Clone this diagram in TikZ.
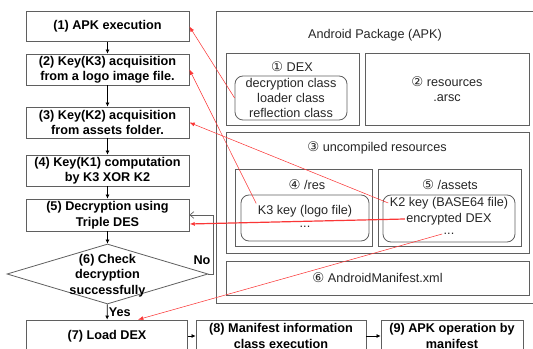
\documentclass[tikz,border=0pt]{standalone}
\usepackage{fontspec}
\setmainfont{Liberation Sans}
\newfontfamily\circfont{DejaVu Sans}
\usetikzlibrary{shapes.geometric, arrows.meta, calc}

\definecolor{boxgray}{RGB}{95,95,95}
\definecolor{keyred}{RGB}{250,55,55}
\newcommand{\cnum}[1]{{\circfont\fontsize{10}{10}\selectfont #1}}

\begin{document}
\begin{tikzpicture}[
    x=0.75pt, y=-0.75pt,
    font=\fontsize{9.5}{11.25}\selectfont,
    stepnode/.style={rectangle, draw=boxgray, line width=0.6pt, fill=white, align=center,
        inner sep=0pt, font=\fontsize{9.5}{11.6}\selectfont\bfseries},
    decision/.style={diamond, draw=boxgray, line width=0.6pt, inner sep=0pt,
        minimum width=150.75pt, minimum height=45pt},
    pkgbox/.style={rectangle, draw=boxgray, line width=0.6pt, align=center, text=black!85},
    filebox/.style={pkgbox, rounded corners=6pt},
    pkgtext/.style={inner sep=1pt, text=black!85},
    flow/.style={-{Latex[length=3pt, width=3pt]}, line width=0.5pt},
    noloop/.style={-{Straight Barb[length=3pt, width=5pt]}, boxgray, line width=0.5pt},
    keyarrow/.style={-{Latex[length=4pt, width=3pt]}, keyred, line width=0.4pt}
]
\useasboundingbox (0,0) rectangle (533,349);
\clip (0,0) rectangle (533,349);

% Decryption steps
\node[stepnode, minimum width=122.25pt, minimum height=22.5pt] (s1) at (107.5,26.5) {(1) APK execution};
\node[stepnode, minimum width=122.25pt, minimum height=23.25pt] (s2) at (107.5,69.5) {(2) Key(K3) acquisition\\from a logo image file.};
\node[stepnode, minimum width=122.25pt, minimum height=23.25pt] (s3) at (107.5,122.5) {(3) Key(K2) acquisition\\from assets folder.};
\node[stepnode, minimum width=122.25pt, minimum height=23.25pt] (s4) at (107.5,170.5) {(4) Key(K1) computation\\by K3 XOR K2};
\node[stepnode, minimum width=122.25pt, minimum height=24pt] (s5) at (107.5,215) {(5) Decryption using\\Triple DES};
\node[decision] (s6) at (107.5,274) {};
\node[stepnode, draw=none, fill=none] at ($(s6)+(0,1.5)$) {(6) Check\\decryption\\successfully};
\node[stepnode, minimum width=120.75pt, minimum height=24pt] (s7) at (107,336) {(7) Load DEX};
\node[stepnode, minimum width=127.5pt, minimum height=24pt] (s8) at (281,336) {(8) Manifest information\\class execution};
\node[stepnode, minimum width=106.5pt, minimum height=24pt] (s9) at (452,336) {(9) APK operation by\\manifest};

% Android package
\node[pkgbox, minimum width=249pt, minimum height=219pt] (apk) at (382,157) {};
\node[pkgtext] (apktitle) at (375,35) {Android Package (APK)};
\node[pkgbox, minimum width=99.75pt, minimum height=54pt] (dex) at (292.5,89) {};
\node[pkgtext] (dextitle) at (292,67) {\cnum{①} DEX};
\node[filebox, minimum width=84pt, minimum height=33pt, inner sep=0pt] (dexin) at (291,98) {decryption class\\loader class\\reflection class};
\node[pkgbox, minimum width=123pt, minimum height=54pt] (arsc) at (447,89) {\cnum{②} resources\\.arsc};
\node[pkgbox, minimum width=227.25pt, minimum height=90.75pt] (unc) at (377.5,192.5) {};
\node[pkgtext] (unctitle) at (377,148) {\cnum{③} uncompiled resources};
\node[pkgbox, minimum width=102.75pt, minimum height=57.75pt] (res) at (303.5,207.5) {};
\node[pkgtext] (restitle) at (307,185) {\cnum{④} /res};
\node[filebox, minimum width=96pt, minimum height=34.5pt] (resin) at (305,218) {};
\node[pkgtext] (k3) at (305,211) {K3 key (logo file)};
\node[pkgtext] (rdots) at (305,227) {...};
\node[pkgbox, minimum width=107.25pt, minimum height=57.75pt] (assets) at (449.5,207.5) {};
\node[pkgtext] (asstitle) at (450,185) {\cnum{⑤} /assets};
\node[filebox, minimum width=99pt, minimum height=35.25pt] (assetsin) at (449,218.5) {};
\node[pkgtext] (k2) at (449,203) {K2 key (BASE64 file)};
\node[pkgtext] (encdex) at (449,219) {encrypted DEX};
\node[pkgtext] (adots) at (449,234) {...};
\node[pkgbox, minimum width=227.25pt, minimum height=25.5pt] (mani) at (377.5,278) {\cnum{⑥} AndroidManifest.xml};

% Flow
\draw[flow] (s1) -- (s2);
\draw[flow] (s2) -- (s3);
\draw[flow] (s3) -- (s4);
\draw[flow] (s4) -- (s5);
\draw[flow] (s5) -- (s6);
\draw[flow] (s6) -- node[right, inner sep=1pt, font=\fontsize{9.5}{11}\selectfont\bfseries] {Yes} (s7);
\draw[noloop] (s6.east) -- ++(5,0) node[anchor=south east, inner sep=2pt, yshift=5pt, text=black, font=\fontsize{9.5}{11}\selectfont\bfseries] {No} |- (s5.east);
\draw[flow] (s7) -- (s8);
\draw[flow] (s8) -- (s9);

% Keys and classes used by each step
\draw[keyarrow] (dexin.west) -- (s1.east);
\draw[keyarrow] (k3.north west) -- (s2.east);
\draw[keyarrow] (k2.west) -- (s3.east);
\draw[keyarrow, line width=0.9pt] (encdex.west) -- ($(s5.east)+(0,9)$);
\draw[keyarrow] (adots.west) -- ($(s7.north)+(31,0)$);

\end{tikzpicture}
\end{document}
